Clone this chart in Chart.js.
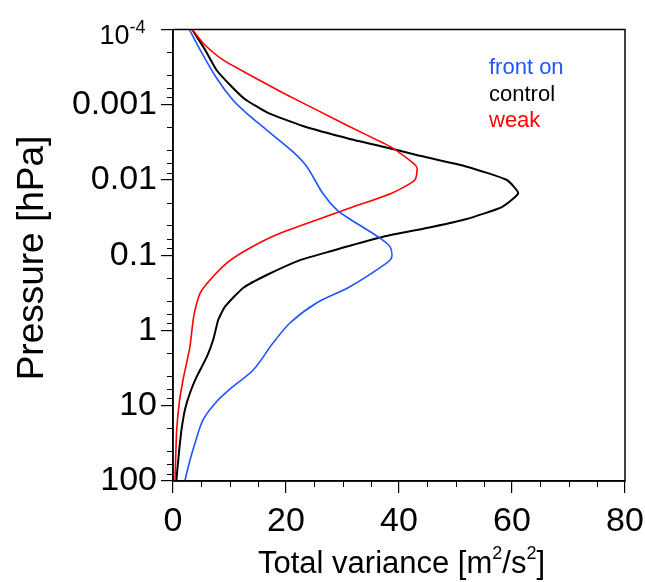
<!DOCTYPE html>
<html>
<head>
<meta charset="utf-8">
<script src="https://cdn.jsdelivr.net/npm/chart.js@4.4.1/dist/chart.umd.min.js"></script>
<style>
  html, body { margin: 0; padding: 0; background: #fff; }
  #wrap { width: 645px; height: 582px; }
</style>
</head>
<body>
<div id="wrap"><canvas id="varChart" width="645" height="582"></canvas></div>
<script>
// pressure levels [hPa] and total variance [m2/s2]
var pFront = [1e-4, 1.87e-4, 4.41e-4, 8.65e-4, 1.29e-3, 2.17e-3, 4.2e-3, 6.65e-3, 0.015, 0.025, 0.033, 0.059, 0.077, 0.107, 0.127, 0.262, 0.431, 0.795, 1.47, 3.35, 5.58, 8.83, 15.5, 31.3, 64.5, 100]
var vFront = [2.9, 4.8, 7.7, 10.6, 13.0, 16.6, 21.2, 23.7, 26.5, 29.0, 31.3, 36.6, 38.4, 38.7, 37.8, 31.3, 25.4, 20.7, 17.7, 14.2, 10.6, 7.7, 5.3, 3.9, 2.7, 2.1]

var pControl = [1e-4, 1.87e-4, 3.45e-4, 5.46e-4, 8.39e-4, 1.28e-3, 1.92e-3, 2.85e-3, 3.61e-3, 4.65e-3, 6.65e-3, 0.01, 0.015, 0.0229, 0.033, 0.0418, 0.0567, 0.0746, 0.0851, 0.116, 0.183, 0.272, 0.483, 0.725, 1.34, 2.23, 4.11, 6.77, 11.4, 21.0, 38.7, 71.4, 100]
var vControl = [3.4, 5.7, 7.7, 10.1, 12.7, 16.8, 23.0, 31.3, 37.2, 43.1, 52.0, 59.1, 61.1, 58.2, 52.0, 46.0, 37.2, 31.3, 28.7, 22.5, 16.6, 12.4, 9.2, 8.0, 7.1, 6.0, 4.2, 3.0, 2.1, 1.5, 1.1, 0.76, 0.6]

var pWeak = [1e-4, 1.51e-4, 2.54e-4, 4.02e-4, 6.98e-4, 1.18e-3, 1.96e-3, 3.22e-3, 3.76e-3, 6.65e-3, 0.01, 0.015, 0.0236, 0.034, 0.0538, 0.0851, 0.127, 0.213, 0.318, 0.534, 0.795, 1.64, 4.55, 9.2, 21, 47.5, 100]
var vWeak = [3.4, 5.3, 8.85, 13.6, 19.5, 25.5, 31.3, 37.2, 38.9, 43.1, 42.8, 38.7, 31.3, 25.4, 18.2, 13.0, 9.5, 6.55, 4.8, 3.9, 3.5, 3.0, 1.77, 1.1, 0.65, 0.48, 0.35]

var seriesNames = ['front on', 'control', 'weak']
var seriesColors = ['#1f55ff', '#000000', '#ff0000']

var yTicks = [1e-4, 1e-3, 1e-2, 1e-1, 1, 10, 100]
var yTickLabels = ['', '0.001', '0.01', '0.1', '1', '10', '100']
var xMinor = [5, 10, 15, 25, 30, 35, 45, 50, 55, 65, 70, 75]
var yMinorMult = [2, 4, 6, 8]

var FONT = '"Liberation Sans", Arial, Helvetica, sans-serif'

function toPoints(p, v) {
    var pts = []
    for (var i = 0; i < p.length; i++) {
        pts.push({ x: v[i], y: p[i] })
    }
    return pts
}

// frame, minor ticks, 10^-4 label, axis titles and the text legend
var extras = {
    id: 'extras',
    afterDraw: function(chart) {
        var ctx = chart.ctx
        var a = chart.chartArea
        var xs = chart.scales.x
        var ys = chart.scales.y
        ctx.save()
        ctx.strokeStyle = '#000'
        ctx.lineWidth = 1.5
        ctx.strokeRect(a.left, a.top, a.right - a.left, a.bottom - a.top)

        ctx.lineWidth = 1
        ctx.beginPath()
        xMinor.forEach(function(v) {
            var px = Math.round(xs.getPixelForValue(v)) + 0.5
            ctx.moveTo(px, a.bottom)
            ctx.lineTo(px, a.bottom + 6)
        })
        for (var d = 0; d < yTicks.length - 1; d++) {
            yMinorMult.forEach(function(m) {
                var py = Math.round(ys.getPixelForValue(yTicks[d] * m)) + 0.5
                ctx.moveTo(a.left, py)
                ctx.lineTo(a.left - 6, py)
            })
        }
        ctx.stroke()

        ctx.fillStyle = '#000'
        // 10^-4 tick label
        var y4 = ys.getPixelForValue(1e-4)
        ctx.font = '27px ' + FONT
        ctx.textAlign = 'right'
        ctx.textBaseline = 'alphabetic'
        ctx.fillText('10', 129.5, y4 + 14.5)
        ctx.font = '18px ' + FONT
        ctx.textAlign = 'left'
        ctx.fillText('-4', 129.5, y4 + 3.5)

        // y title
        ctx.save()
        ctx.translate(42.5, 258)
        ctx.rotate(-Math.PI / 2)
        ctx.font = '37px ' + FONT
        ctx.textAlign = 'center'
        ctx.fillText('Pressure [hPa]', 0, 0)
        ctx.restore()

        // x title with superscripts
        var parts = [['Total variance [m', 31, 0], ['2', 18, -14], ['/s', 31, 0], ['2', 18, -14], [']', 31, 0]]
        var total = 0
        parts.forEach(function(pt) {
            ctx.font = pt[1] + 'px ' + FONT
            total += ctx.measureText(pt[0]).width
        })
        var xx = 401.5 - total / 2
        ctx.textAlign = 'left'
        parts.forEach(function(pt) {
            ctx.font = pt[1] + 'px ' + FONT
            ctx.fillText(pt[0], xx, 572.5 + pt[2])
            xx += ctx.measureText(pt[0]).width
        })

        // legend text
        ctx.font = '22px ' + FONT
        var base = [74, 100.5, 127]
        for (var i = 0; i < seriesNames.length; i++) {
            ctx.fillStyle = seriesColors[i]
            ctx.fillText(seriesNames[i], 489, base[i])
        }
        ctx.restore()
    }
}

var config = {
    type: 'line',
    data: {
        datasets: [
            { label: seriesNames[0], data: toPoints(pFront, vFront), borderColor: seriesColors[0], borderWidth: 1.6, tension: 0.3 },
            { label: seriesNames[2], data: toPoints(pWeak, vWeak), borderColor: seriesColors[2], borderWidth: 1.6, tension: 0.2 },
            { label: seriesNames[1], data: toPoints(pControl, vControl), borderColor: seriesColors[1], borderWidth: 2, tension: 0.15 }
        ]
    },
    options: {
        responsive: false,
        animation: false,
        events: [],
        layout: { padding: { left: 0, right: 20, top: 29.5, bottom: 0 } },
        elements: {
            point: { radius: 0 },
            line: { fill: false }
        },
        plugins: {
            legend: { display: false },
            tooltip: { enabled: false }
        },
        scales: {
            x: {
                type: 'linear',
                min: 0,
                max: 80,
                afterFit: function(scale) {
                    scale.height = 101
                    scale.paddingLeft = 0
                    scale.paddingRight = 0
                },
                border: { display: true, color: '#000', width: 1.5 },
                grid: { drawOnChartArea: false, drawTicks: true, tickLength: 12, color: '#000', lineWidth: 1.2 },
                ticks: {
                    stepSize: 20,
                    padding: 8,
                    color: '#000',
                    font: { family: FONT, size: 34 },
                    maxRotation: 0
                }
            },
            y: {
                type: 'logarithmic',
                reverse: true,
                min: 1e-4,
                max: 100,
                afterFit: function(scale) {
                    scale.width = 173
                    scale.paddingTop = 0
                    scale.paddingBottom = 0
                },
                afterBuildTicks: function(scale) {
                    scale.ticks = yTicks.map(function(v) { return { value: v } })
                },
                border: { display: true, color: '#000', width: 1.5 },
                grid: { drawOnChartArea: false, drawTicks: true, tickLength: 12, color: '#000', lineWidth: 1.2 },
                ticks: {
                    padding: 4,
                    color: '#000',
                    font: { family: FONT, size: 34 },
                    callback: function(value, index) { return yTickLabels[index] }
                }
            }
        }
    },
    plugins: [extras]
}

var varChart = new Chart(document.getElementById('varChart'), config)
</script>
</body>
</html>
